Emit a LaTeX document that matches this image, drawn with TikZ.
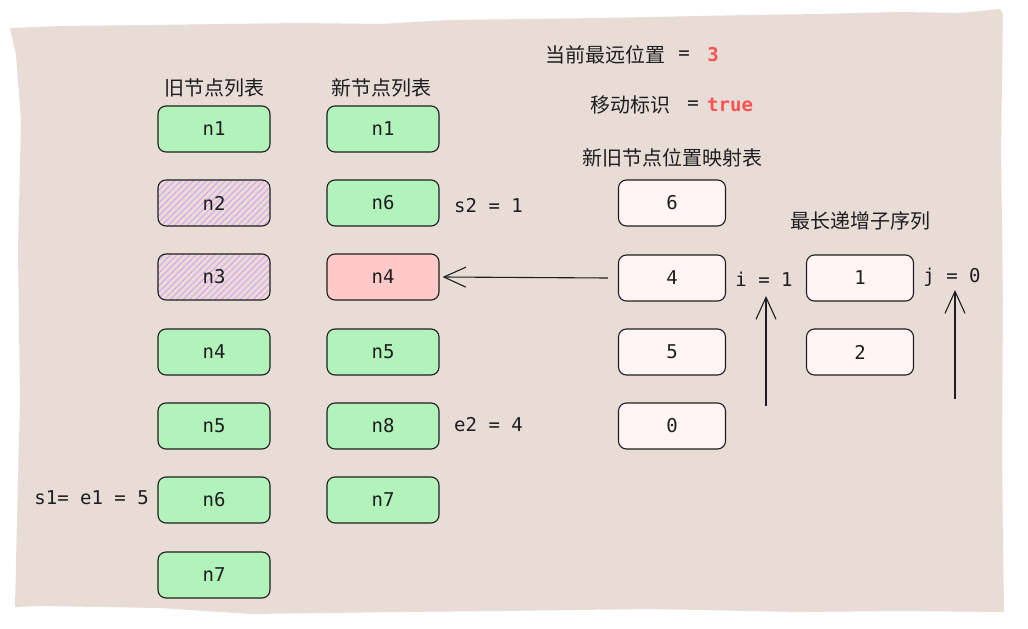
\documentclass[tikz,border=0pt]{standalone}
\usepackage{fontspec}
\setmonofont{DejaVu Sans Mono}
\newfontfamily\cjk{Noto Sans CJK SC}
\usetikzlibrary{patterns,patterns.meta,arrows.meta}
\definecolor{paper}{HTML}{E8DCD7}
\definecolor{ink}{HTML}{1E1E1E}
\definecolor{gfill}{HTML}{B2F2BB}
\definecolor{rfill}{HTML}{FFC9C9}
\definecolor{mfill}{HTML}{FFF5F5}
\definecolor{hatch}{HTML}{DDA0EE}
\definecolor{redtxt}{HTML}{FA5252}
\tikzset{
  basebox/.style={draw=ink, line width=1.1pt, rounded corners=8pt, minimum width=112pt, minimum height=46pt, inner sep=0pt, text=ink, font=\ttfamily\fontsize{19}{22}\selectfont},
  greenbox/.style={basebox, fill=gfill},
  redbox/.style={basebox, fill=rfill},
  hatchbox/.style={basebox, pattern={Lines[angle=45,distance=4.5pt,line width=1pt]}, pattern color=hatch},
  mapbox/.style={basebox, fill=mfill, minimum width=107pt},
  cjklabel/.style={text=ink, inner sep=0pt, font=\cjk\fontsize{20}{24}\selectfont},
  monolabel/.style={text=ink, inner sep=0pt, font=\ttfamily\fontsize{19}{22}\selectfont},
  redval/.style={text=redtxt, inner sep=0pt, font=\ttfamily\bfseries\fontsize{19}{22}\selectfont},
  sketcharrow/.style={draw=ink, line width=1.1pt, -{Straight Barb[length=22pt,width=20pt,line width=1.1pt]}}
}
\begin{document}
\begin{tikzpicture}[x=1pt,y=-1pt]
\useasboundingbox (0,0) rectangle (1028,629);
\fill[white] (0,0) rectangle (1028,629);
% paper
\fill[paper] (10,28) -- (60,26) -- (150,25) -- (300,23) -- (380,24) -- (450,20) -- (600,18) -- (750,15) -- (820,14) -- (900,12) -- (960,13) -- (1000,9)
  -- (1003,14) -- (1001,150) -- (1003,300) -- (1002,450) -- (1004,612)
  -- (900,611) -- (800,612) -- (650,609) -- (500,611) -- (400,612) -- (250,614) -- (160,608) -- (100,607) -- (40,606) -- (15,607)
  -- (17,520) -- (20,400) -- (18,250) -- (21,120) -- (16,55) -- cycle;

% headings
\node[cjklabel] (hold) at (214,88) {旧节点列表};
\node[cjklabel] (hnew) at (381,88) {新节点列表};
\node[cjklabel, anchor=west] (hfar) at (545,55) {当前最远位置};
\node[monolabel] (hfareq) at (684,55) {=};
\node[redval] (hfarv) at (713,55) {3};
\node[cjklabel, anchor=west] (hmove) at (590,105) {移动标识};
\node[monolabel] (hmoveeq) at (693,105) {=};
\node[redval, anchor=west] (hmovev) at (707,105) {true};
\node[cjklabel] (hmap) at (672,158) {新旧节点位置映射表};
\node[cjklabel] (hlis) at (860,221) {最长递增子序列};

% old list
\node[greenbox] (o1) at (214,129) {n1};
\node[hatchbox] (o2) at (214,203) {n2};
\node[hatchbox] (o3) at (214,277) {n3};
\node[greenbox] (o4) at (214,352) {n4};
\node[greenbox] (o5) at (214,426) {n5};
\node[greenbox] (o6) at (214,500) {n6};
\node[greenbox] (o7) at (214,575) {n7};

% new list
\node[greenbox] (c1) at (383,129) {n1};
\node[greenbox] (c6) at (383,203) {n6};
\node[redbox]   (c4) at (383,277) {n4};
\node[greenbox] (c5) at (383,352) {n5};
\node[greenbox] (c8) at (383,426) {n8};
\node[greenbox] (c7) at (383,500) {n7};

% map
\node[mapbox] (m6) at (672,203) {6};
\node[mapbox] (m4) at (672,278) {4};
\node[mapbox] (m5) at (672,352) {5};
\node[mapbox] (m0) at (672,426) {0};

% LIS
\node[mapbox] (l1) at (860,278) {1};
\node[mapbox] (l2) at (860,352) {2};

% labels
\node[monolabel, anchor=west] (s2) at (454,206) {s2 = 1};
\node[monolabel, anchor=west] (e2) at (454,425) {e2 = 4};
\node[monolabel, anchor=east] (s1) at (149,498) {s1= e1 = 5};
\node[monolabel] (iv) at (764,279) {i = 1};
\node[monolabel] (jv) at (952,277) {j = 0};

% arrows
\coordinate (istart) at (766,406);
\coordinate (iend) at (766,296);
\coordinate (jstart) at (955,399);
\coordinate (jend) at (955,290);
\draw[sketcharrow] (m4.west) ++(-10,0) -- ([xshift=3pt]c4.east);
\draw[sketcharrow] (istart) -- (iend);
\draw[sketcharrow] (jstart) -- (jend);
\end{tikzpicture}
\end{document}
